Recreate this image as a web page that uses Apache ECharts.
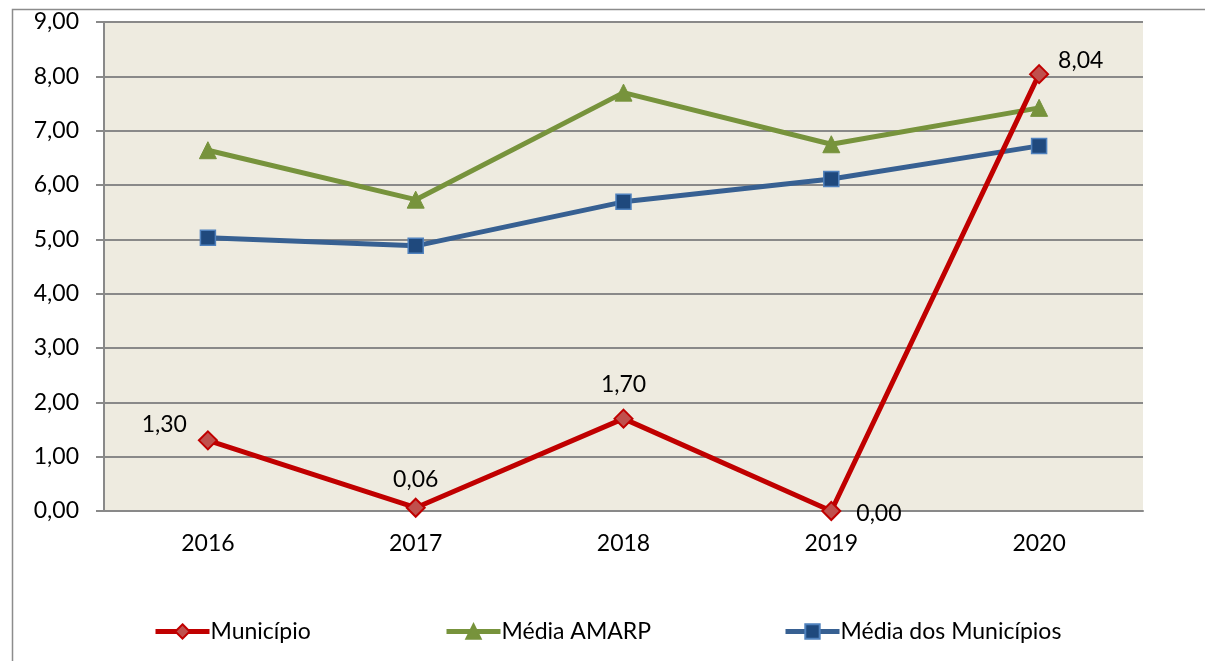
<!DOCTYPE html>
<html>
<head>
<meta charset="utf-8">
<script src="https://cdn.jsdelivr.net/npm/echarts@6/dist/echarts.min.js"></script>
<style>html,body{margin:0;padding:0;background:#fff}#c{width:1205px;height:661px}</style>
</head>
<body>
<div id="c"></div>
<script>
const categories = ['2016', '2017', '2018', '2019', '2020'];
const municipio = [1.30, 0.06, 1.70, 0.00, 8.04];
const mediaAmarp = [6.64, 5.73, 7.70, 6.75, 7.42];
const mediaMunicipios = [5.03, 4.88, 5.69, 6.11, 6.72];
const yTicks = [0, 1, 2, 3, 4, 5, 6, 7, 8, 9];

const FONT = 'Lato, "Open Sans", sans-serif';
const FS = 23;
const fmt = v => v.toFixed(2).replace('.', ',');

const labelPos = [
  {position: 'left', offset: [-6, -16]},
  {position: 'top', offset: [0, -2]},
  {position: 'top', offset: [0, -8]},
  {position: 'right', offset: [10, 3]},
  {position: 'right', offset: [4, -14]}
];

const chart = echarts.init(document.getElementById('c'));
chart.setOption({
  animation: false,
  textStyle: {fontFamily: FONT},
  graphic: [{
    type: 'rect', left: 10, top: 7,
    shape: {width: 1194, height: 670},
    style: {fill: 'none', stroke: '#8c8c8c', lineWidth: 1.5}, silent: true
  }],
  grid: {
    left: 104, right: 62, top: 22, bottom: 150,
    show: true, backgroundColor: '#EEEBE0', borderWidth: 0
  },
  legend: [
    {data: ['Município'], left: 148, top: 615},
    {data: ['Média AMARP'], left: 439, top: 615},
    {data: ['Média dos Municípios'], left: 778, top: 615}
  ].map(l => Object.assign(l, {
    itemWidth: 54, itemHeight: 18, itemGap: 0,
    lineStyle: {width: 'inherit'},
    textStyle: {fontFamily: FONT, fontSize: FS, color: '#000', padding: [0, 0, 0, -4]}
  })),
  xAxis: {
    type: 'category', data: categories, boundaryGap: true,
    axisLine: {lineStyle: {color: '#898989', width: 2}},
    axisTick: {show: false},
    axisLabel: {fontFamily: FONT, fontSize: FS, color: '#000', margin: 21},
    splitLine: {show: false}
  },
  yAxis: {
    type: 'value', min: yTicks[0], max: yTicks[yTicks.length - 1], interval: 1,
    axisLine: {show: true, lineStyle: {color: '#898989', width: 2}},
    axisTick: {show: true, length: 8, lineStyle: {color: '#898989', width: 2}},
    axisLabel: {fontFamily: FONT, fontSize: FS, color: '#000', margin: 25, formatter: fmt},
    splitLine: {lineStyle: {color: '#898989', width: 2}}
  },
  series: [
    {
      name: 'Município', type: 'line', z: 5,
      data: municipio.map((v, i) => ({value: v, label: labelPos[i]})),
      symbol: 'diamond', symbolSize: 18,
      lineStyle: {color: '#C00000', width: 5},
      itemStyle: {color: '#C0504D', borderColor: '#C00000', borderWidth: 2},
      label: {show: true, fontFamily: FONT, fontSize: FS, color: '#000', formatter: p => fmt(p.value)}
    },
    {
      name: 'Média AMARP', type: 'line', z: 3,
      data: mediaAmarp,
      symbol: 'triangle', symbolSize: 17,
      lineStyle: {color: '#77933C', width: 5},
      itemStyle: {color: '#77933C', borderColor: '#77933C', borderWidth: 1}
    },
    {
      name: 'Média dos Municípios', type: 'line', z: 4,
      data: mediaMunicipios,
      symbol: 'rect', symbolSize: 15,
      lineStyle: {color: '#376092', width: 5},
      itemStyle: {color: '#1F497D', borderColor: '#4F81BD', borderWidth: 1.5}
    }
  ]
});
</script>
</body>
</html>
